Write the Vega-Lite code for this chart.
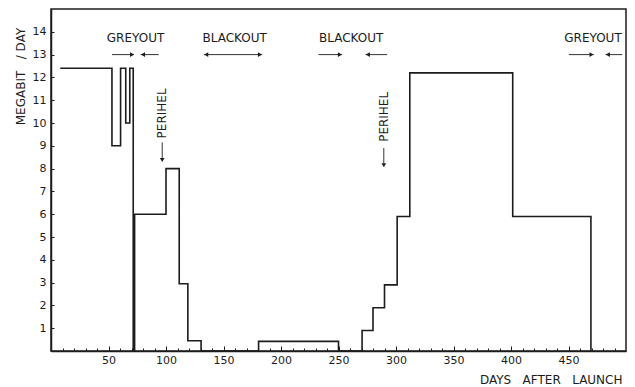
{
  "$schema": "https://vega.github.io/schema/vega-lite/v6.json",
  "width": 575,
  "height": 342,
  "autosize": "none",
  "padding": {"left": 51, "top": 9, "right": 9, "bottom": 36},
  "background": "white",
  "config": {
    "view": {"stroke": "#1c1c1c", "strokeWidth": 1.5},
    "font": "DejaVu Sans",
    "axis": {
      "domainColor": "#1c1c1c", "domainWidth": 1.5,
      "tickColor": "#1c1c1c", "tickWidth": 1,
      "labelColor": "#1c1c1c", "labelFont": "DejaVu Sans", "labelFontSize": 11,
      "titleColor": "#1c1c1c", "titleFont": "DejaVu Sans", "titleFontWeight": "normal", "titleFontSize": 12,
      "grid": false, "labelOverlap": false
    }
  },
  "datasets": {
    "rate": [
      {"day": 8, "mb": 12.4}, {"day": 53, "mb": 9.0}, {"day": 60.5, "mb": 12.4}, {"day": 65, "mb": 10.0},
      {"day": 68.5, "mb": 12.4}, {"day": 71.5, "mb": 0}, {"day": 72.7, "mb": 6.0}, {"day": 100, "mb": 8.0},
      {"day": 111.5, "mb": 2.95}, {"day": 119, "mb": 0.45}, {"day": 130.5, "mb": 0}, {"day": 180.5, "mb": 0.42},
      {"day": 250, "mb": 0}, {"day": 270.5, "mb": 0.9}, {"day": 280, "mb": 1.9}, {"day": 290, "mb": 2.9},
      {"day": 301, "mb": 5.9}, {"day": 312, "mb": 12.2}, {"day": 401.5, "mb": 5.9}, {"day": 469.5, "mb": 0}
    ],
    "labels": [
      {"day": 73.5, "mb": 13.72, "text": "GREYOUT"},
      {"day": 159.7, "mb": 13.72, "text": "BLACKOUT"},
      {"day": 261, "mb": 13.72, "text": "BLACKOUT"},
      {"day": 471.3, "mb": 13.72, "text": "GREYOUT"}
    ],
    "shafts": [
      {"from": 53, "to": 72}, {"from": 78, "to": 93.7},
      {"from": 133, "to": 183.7},
      {"from": 232.6, "to": 253.2}, {"from": 273.5, "to": 292.3},
      {"from": 450.3, "to": 472}, {"from": 482.2, "to": 496.7}
    ],
    "headsR": [{"day": 70.5}, {"day": 181.7}, {"day": 251.2}, {"day": 470}],
    "headsL": [{"day": 80}, {"day": 135}, {"day": 275.5}, {"day": 484.2}],
    "perihel": [
      {"day": 96.7, "mb": 10.42, "top": 9.15, "bottom": 8.45, "head": 8.38, "text": "PERIHEL"},
      {"day": 289.4, "mb": 10.27, "top": 8.9, "bottom": 8.22, "head": 8.15, "text": "PERIHEL"}
    ]
  },
  "encoding": {
    "x": {"type": "quantitative", "scale": {"domain": [0, 500], "nice": false, "zero": false},
      "axis": {
        "title": "DAYS\u00a0\u00a0\u00a0AFTER\u00a0\u00a0\u00a0LAUNCH",
        "titleX": 571, "titleY": 28, "titleAlign": "right", "titleBaseline": "middle", "titleAnchor": null,
        "values": [10,20,30,40,50,60,70,80,90,100,110,120,130,140,150,160,170,180,190,200,210,220,230,240,250,260,270,280,290,300,310,320,330,340,350,360,370,380,390,400,410,420,430,440,450,460,470,480,490],
        "labelExpr": "datum.value % 50 === 0 ? datum.label : ''",
        "tickSize": {"condition": {"test": "datum.value % 50 === 0", "value": -5}, "value": -3},
        "labelPadding": 8, "labelFlush": false, "labelOverlap": false
      }
    },
    "y": {"type": "quantitative", "scale": {"domain": [0, 15], "nice": false},
      "axis": {
        "title": "MEGABIT\u00a0\u00a0\u00a0/\u00a0DAY",
        "titleX": -31, "titleY": 67, "titleAngle": 270, "titleAlign": "center", "titleBaseline": "middle", "titleAnchor": null,
        "values": [1,2,3,4,5,6,7,8,9,10,11,12,13,14],
        "tickSize": -3, "labelPadding": 8, "labelOverlap": false
      }
    }
  },
  "layer": [
    {
      "data": {"name": "rate"},
      "mark": {"type": "line", "interpolate": "step-after", "color": "#1c1c1c", "strokeWidth": 1.6},
      "encoding": {
        "x": {"field": "day", "type": "quantitative"},
        "y": {"field": "mb", "type": "quantitative"}
      }
    },
    {
      "data": {"name": "labels"},
      "mark": {"type": "text", "fontSize": 12, "color": "#1c1c1c", "baseline": "middle", "align": "center"},
      "encoding": {
        "x": {"field": "day", "type": "quantitative"},
        "y": {"field": "mb", "type": "quantitative"},
        "text": {"field": "text"}
      }
    },
    {
      "data": {"name": "shafts"},
      "mark": {"type": "rule", "color": "#1c1c1c", "strokeWidth": 0.9},
      "encoding": {
        "x": {"field": "from", "type": "quantitative"},
        "x2": {"field": "to"},
        "y": {"datum": 13}
      }
    },
    {
      "data": {"name": "headsR"},
      "mark": {"type": "point", "shape": "triangle-right", "filled": true, "size": 22, "color": "#1c1c1c", "opacity": 1},
      "encoding": {
        "x": {"field": "day", "type": "quantitative"},
        "y": {"datum": 13}
      }
    },
    {
      "data": {"name": "headsL"},
      "mark": {"type": "point", "shape": "triangle-left", "filled": true, "size": 22, "color": "#1c1c1c", "opacity": 1},
      "encoding": {
        "x": {"field": "day", "type": "quantitative"},
        "y": {"datum": 13}
      }
    },
    {
      "data": {"name": "perihel"},
      "mark": {"type": "text", "fontSize": 12, "angle": 270, "color": "#1c1c1c", "baseline": "middle", "align": "center"},
      "encoding": {
        "x": {"field": "day", "type": "quantitative"},
        "y": {"field": "mb", "type": "quantitative"},
        "text": {"field": "text"}
      }
    },
    {
      "data": {"name": "perihel"},
      "mark": {"type": "rule", "color": "#1c1c1c", "strokeWidth": 0.9},
      "encoding": {
        "x": {"field": "day", "type": "quantitative"},
        "y": {"field": "top", "type": "quantitative"},
        "y2": {"field": "bottom"}
      }
    },
    {
      "data": {"name": "perihel"},
      "mark": {"type": "point", "shape": "triangle-down", "filled": true, "size": 22, "color": "#1c1c1c", "opacity": 1},
      "encoding": {
        "x": {"field": "day", "type": "quantitative"},
        "y": {"field": "head", "type": "quantitative"}
      }
    }
  ]
}
